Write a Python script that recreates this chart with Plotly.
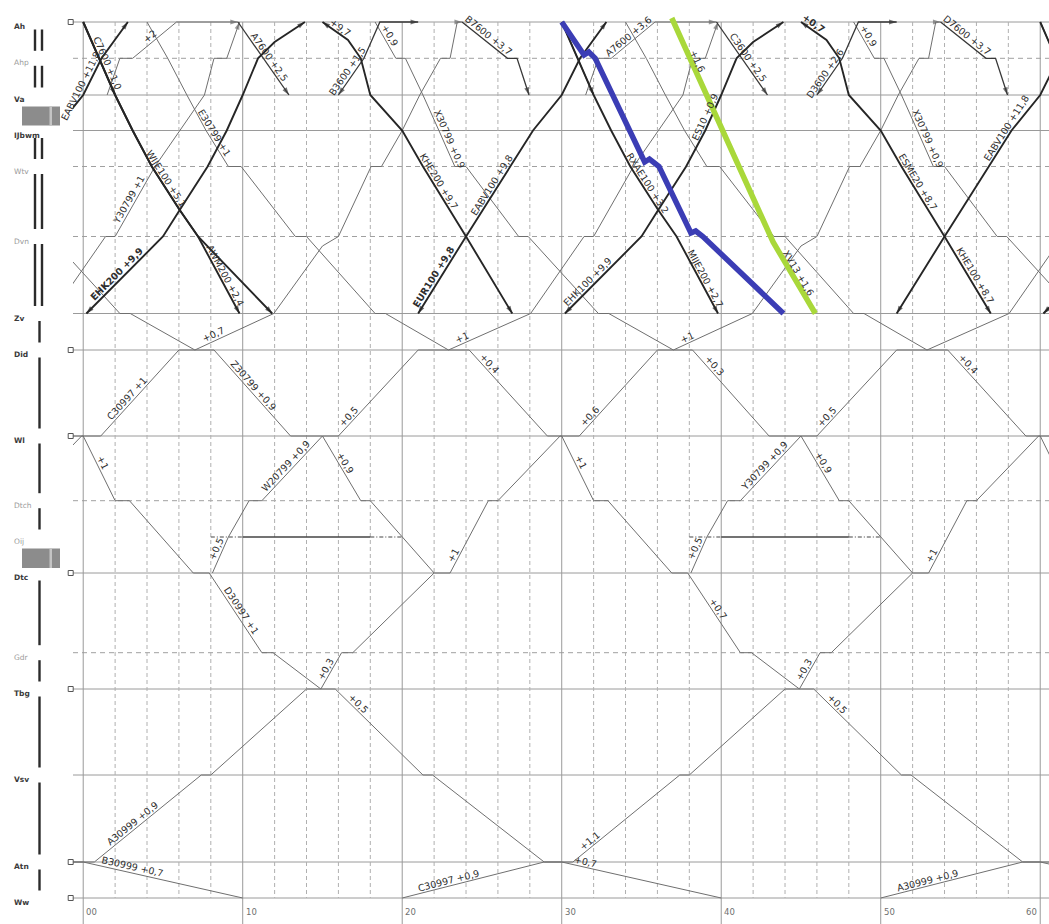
import math
import plotly.graph_objects as go

# ---------------- data ----------------
STATIONS = ["Ah", "Ahp", "Va", "IJbwm", "Wtv", "Dvn", "Zv", "Did", "Wl", "Dtch",
            "Oij", "Dtc", "Gdr", "Tbg", "Vsv", "Atn", "Ww"]
STATION_POS = [0.0, 3.63, 7.3, 10.85, 14.45, 21.45, 29.15, 32.8, 41.4, 47.87,
               51.5, 55.1, 63.07, 66.7, 75.3, 84.0, 87.6]
SOLID_STATIONS = ["Ah", "Va", "IJbwm", "Zv", "Did", "Wl", "Dtc", "Tbg", "Vsv", "Atn", "Ww"]
DASHED_STATIONS = ["Ahp", "Wtv", "Dvn", "Dtch", "Gdr"]
SQUARE_STATIONS = ["Ah", "Did", "Wl", "Dtc", "Tbg", "Atn", "Ww"]
SECTION_TRACKS = ["double", "double", "yard", "double", "double", "double",
                  "single", "single", "single", "single", "yard",
                  "single", "single", "single", "single", "single"]

TICK_MINUTES = [0, 10, 20, 30, 40, 50, 60]
TICK_TEXT = ["00", "10", "20", "30", "40", "50", "60"]
MINOR_STEP = 2
PERIOD = 30

SIDING_STATION = "Oij"
SIDING_DASHED = [(8.0, 10.0), (18.0, 20.0), (38.0, 40.0), (48.0, 50.0)]
SIDING_SOLID = [(10.0, 18.0), (40.0, 48.0)]

# train paths: (minute, station or position)
D_A = [(18.3, "Ah"), (19.6, "Ahp"), (20.2, "Ahp"), (21.3, "Va"), (22.3, "IJbwm"), (23.3, "Wtv"),
       (24.0, "Wtv"), (27.3, "Dvn"), (27.9, "Dvn"), (32.3, "Zv"), (32.95, "Zv"), (37.0, "Did"),
       (38.2, "Did"), (43.0, "Wl"), (45.0, "Wl"), (47.4, "Dtch"), (48.0, "Dtch"), (52.0, "Dtc")]
D_B = [(4.0, "Ah"), (5.3, "Ahp"), (6.5, "Va"), (7.7, "IJbwm"), (9.1, "Wtv"), (9.9, "Wtv"),
       (13.3, "Dvn"), (14.0, "Dvn"), (18.3, "Zv"), (18.95, "Zv"), (22.9, "Did"), (24.2, "Did"),
       (29.1, "Wl"), (30.0, "Wl"), (32.0, "Dtch"), (32.9, "Dtch"), (36.9, "Dtc"), (37.9, "Dtc"),
       (41.2, "Gdr"), (41.9, "Gdr"), (44.9, "Tbg"), (45.8, "Tbg"), (51.3, "Vsv"), (51.9, "Vsv"),
       (58.9, "Atn"), (60.0, "Atn"), (70.0, "Ww")]
U_A = [(-10.0, "Ww"), (-1.1, "Atn"), (0.7, "Atn"), (7.4, "Vsv"), (8.0, "Vsv"), (14.0, "Tbg"),
       (14.9, "Tbg"), (16.2, "Gdr"), (16.9, "Gdr"), (22.0, "Dtc"), (23.0, "Dtc"), (24.2, "Oij"),
       (25.4, "Dtch"), (26.0, "Dtch"), (29.9, "Wl"), (31.1, "Wl"), (36.0, "Did"), (37.0, "Did"),
       (41.95, "Zv"), (45.0, 22.4), (46.0, "Dvn"), (48.05, "Wtv"), (48.7, "Wtv"), (50.0, "IJbwm"),
       (51.1, "Va"), (52.4, "Ahp"), (53.0, "Ahp"), (53.45, "Ah"), (53.75, "Ah")]
U_B = [(8.1, "Dtc"), (9.1, "Oij"), (10.4, "Dtch"), (11.2, "Dtch"), (15.0, "Wl"), (16.0, "Wl"),
       (21.0, "Did"), (22.9, "Did"), (28.05, "Zv"), (31.4, "Dvn"), (32.0, "Dvn"), (34.5, "Wtv"),
       (37.6, "Va"), (38.2, "Ahp"), (39.0, "Ahp"), (39.8, "Ah")]
Q_UP = [(1.5, "Va"), (2.3, "Ahp"), (3.1, "Ahp"), (5.85, "Ah"), (9.7, "Ah")]
SD1 = [(0.0, "Ah"), (2.0, "Va")]
SD2 = [(9.7, "Ah"), (12.9, "Va")]
SD3 = [(23.75, "Ah"), (26.6, "Ahp"), (27.2, "Ahp"), (27.95, "Va")]
SU1 = [(16.0, "Va"), (17.6, "Ahp"), (18.6, "Ah"), (21.0, "Ah")]
EHK = [(0.2, "Zv"), (5.0, "Dvn"), (6.05, 18.8), (7.8, "Wtv"), (9.0, "IJbwm"), (10.0, "Va"),
       (10.96, "Ahp"), (12.0, 2.0), (13.9, "Ah")]
EABV = [(21.0, "Zv"), (24.0, "Dvn"), (28.2, "IJbwm"), (30.0, "Va"), (31.15, "Ahp"), (32.8, "Ah")]
BD1 = [(0.0, "Ah"), (1.0, "Ahp"), (2.0, "Va"), (3.1, "IJbwm"), (4.3, "Wtv"), (6.05, 18.8),
       (7.2, "Dvn"), (9.8, "Zv")]
BD2 = [(0.0, "Ah"), (1.0, "Ahp"), (2.0, "Va"), (3.1, "IJbwm"), (4.3, "Wtv"), (6.05, 18.8),
       (7.2, "Dvn"), (11.85, "Zv")]
KHE = [(15.0, "Ah"), (16.6, 1.8), (17.4, "Ahp"), (18.0, "Va"), (20.0, "IJbwm"), (21.3, "Wtv"),
       (24.0, "Dvn"), (26.9, "Zv")]
BLUE = [(30.0, "Ah"), (31.4, 3.3), (31.7, 3.0), (32.1, "Ahp"), (35.2, 14.0), (35.5, 13.7),
        (36.1, "Wtv"), (38.1, 21.1), (38.4, 20.9), (38.85, "Dvn"), (43.9, "Zv")]
GREEN = [(36.9, -0.4), (43.25, 22.0), (45.9, "Zv")]

PATHS = {"D_A": D_A, "D_B": D_B, "U_A": U_A, "U_B": U_B, "Q_UP": Q_UP, "SD1": SD1, "SD2": SD2,
         "SD3": SD3, "SU1": SU1, "EHK": EHK, "EABV": EABV, "BD1": BD1, "BD2": BD2, "KHE": KHE,
         "BLUE": BLUE, "GREEN": GREEN}
PERIODIC = ["D_A", "D_B", "U_A", "U_B", "Q_UP", "SD1", "SD2", "SD3", "SU1", "EHK", "EABV", "BD1", "KHE"]

# labels: (text, path, period shift, minute, bold)
LABELS = [
    ("C30997 +1", "U_A", -1, 3.0, False), ("+0,7", "U_A", -1, 8.3, False),
    ("Z30799 +0,9", "D_A", -1, 10.4, False), ("+0,5", "U_B", 0, 16.9, False),
    ("+1", "U_B", 0, 23.9, False), ("+0,4", "D_B", 0, 25.2, False),
    ("+1", "D_B", -1, 0.9, False), ("W20799 +0,9", "U_B", 0, 13.0, False),
    ("+0,9", "D_A", -1, 16.1, False), ("+0,5", "U_B", 0, 8.7, False),
    ("+1", "U_A", 0, 23.5, False), ("D30997 +1", "D_B", -1, 9.6, False),
    ("+0,3", "U_A", 0, 15.5, False), ("+0,5", "D_B", -1, 17.0, False),
    ("A30999 +0,9", "U_A", 0, 3.3, False), ("B30999 +0,7", "D_B", -2, 3.0, False),
    ("C30997 +0,9", "U_A", 1, 23.0, False),
    ("+1", "U_A", 0, 38.0, False), ("+0,3", "D_A", 0, 39.3, False),
    ("+0,4", "D_B", 1, 55.2, False), ("+0,6", "U_A", 0, 32.0, False),
    ("+0,5", "U_B", 1, 46.9, False), ("+1", "D_B", 0, 30.9, False),
    ("Y30799 +0,9", "U_B", 1, 43.0, False), ("+0,9", "D_A", 0, 46.1, False),
    ("+0,5", "U_B", 1, 38.7, False), ("+1", "U_A", 1, 53.5, False),
    ("+0,7", "D_B", 0, 39.5, False), ("+0,3", "U_A", 1, 45.5, False),
    ("+0,5", "D_B", 0, 47.0, False), ("+1,1", "U_A", 1, 32.0, False),
    ("+0,7", "D_B", -1, 31.4, False), ("A30999 +0,9", "U_A", 2, 53.0, False),
    ("EHK200 +9,9", "EHK", 0, 2.4, True), ("WIJE100 +5,1", "BD1", 0, 4.9, False),
    ("AWM200 +2,4", "BD1", 0, 8.6, False), ("Y30799 +1", "U_B", -1, 3.2, False),
    ("E30799 +1", "D_B", 0, 7.9, False), ("C7600 +1,0", "SD1", 0, 1.2, False),
    ("+2", "Q_UP", 0, 4.4, False), ("A7600 +2,5", "SD2", 0, 11.4, False),
    ("+9,7", "KHE", 0, 15.9, False), ("B3600 +1,5", "SU1", 0, 16.9, False),
    ("+0,9", "D_A", 0, 18.9, False), ("KHE200 +9,7", "KHE", 0, 22.0, False),
    ("X30799 +0,9", "D_A", 0, 22.6, False), ("B7600 +3,7", "SD3", 0, 25.2, False),
    ("EUR100 +9,8", "EABV", 0, 22.3, True), ("EABV100 +9,8", "EABV", 0, 25.9, False),
    ("EABV100 +11,8", "EABV", -1, 0.2, False), ("EHK100 +9,9", "EHK", 1, 31.9, False),
    ("RXAE100 +3,2", "BD1", 1, 35.1, False), ("MIJE200 +2,7", "BD1", 1, 38.7, False),
    ("A7600 +3,6", "Q_UP", 1, 34.4, False), ("C3600 +2,5", "SD2", 1, 41.4, False),
    ("ES10 +0,9", "EHK", 1, 39.3, False), ("+0,7", "KHE", 1, 45.6, True),
    ("D3600 +2,6", "SU1", 1, 46.8, False), ("+0,9", "D_A", 1, 48.9, False),
    ("X30799 +0,9", "D_A", 1, 52.6, False), ("ESME20 +8,7", "KHE", 1, 52.0, False),
    ("KHE100 +8,7", "KHE", 1, 55.6, False), ("D7600 +3,7", "SD3", 1, 55.2, False),
    ("EABV100 +11,8", "EABV", 1, 58.2, False), ("+1,6", "GREEN", 0, 38.2, False),
    ("XV13 +1,6", "GREEN", 0, 44.5, False),
]

# ---------------- layout constants ----------------
W, H = 1049, 924
ML, MR, MT, MB = 73, 0, 0, 0
X_RANGE = [-0.64, 60.55]
Y_RANGE = [90.2, -2.2]
PLOT_W = W - ML - MR
PLOT_H = H - MT - MB
SX = PLOT_W / (X_RANGE[1] - X_RANGE[0])
SY = PLOT_H / (Y_RANGE[0] - Y_RANGE[1])
FONT = "DejaVu Sans"

POS = dict(zip(STATIONS, STATION_POS))


def km(loc):
    return POS[loc] if isinstance(loc, str) else float(loc)


def px(xpix):
    return (xpix - ML) / PLOT_W


STYLE = {
    "thin": dict(color="#6f6f6f", width=1.0),
    "short": dict(color="#383838", width=1.3),
    "bold": dict(color="#262626", width=1.9),
    "blue": dict(color="#3b3db5", width=5.5),
    "green": dict(color="#a9d83a", width=5.5),
}
PATH_STYLE = {"D_A": "thin", "D_B": "thin", "U_A": "thin", "U_B": "thin", "Q_UP": "thin",
              "SD1": "short", "SD2": "short", "SD3": "short", "SU1": "short",
              "EHK": "bold", "EABV": "bold", "BD1": "bold", "BD2": "bold", "KHE": "bold",
              "BLUE": "blue", "GREEN": "green"}
ARROWS = {"EHK": (True, True), "EABV": (True, True), "BD1": (False, True), "BD2": (False, True),
          "KHE": (True, True), "SD1": (False, True), "SD2": (False, True), "SD3": (False, True),
          "SU1": (True, True), "Q_UP": (False, True), "U_A": (False, True), "U_B": (False, True)}


def instances(name):
    return range(-2, 3) if name in PERIODIC else [0]


fig = go.Figure()
shapes = []
annotations = []

# grid: station lines
for s in SOLID_STATIONS:
    shapes.append(dict(type="line", xref="paper", yref="y", x0=0, x1=1, y0=POS[s], y1=POS[s],
                       line=dict(color="#9a9a9a", width=1), layer="below"))
for s in DASHED_STATIONS:
    shapes.append(dict(type="line", xref="paper", yref="y", x0=0, x1=1, y0=POS[s], y1=POS[s],
                       line=dict(color="#a0a0a0", width=1, dash="5px,4px"), layer="below"))
# vertical grid
for m in range(0, 61, MINOR_STEP):
    if m % 10 == 0:
        shapes.append(dict(type="line", xref="x", yref="y", x0=m, x1=m, y0=POS["Ah"], y1=Y_RANGE[0],
                           line=dict(color="#9a9a9a", width=1), layer="below"))
    else:
        shapes.append(dict(type="line", xref="x", yref="y", x0=m, x1=m, y0=POS["Ah"], y1=POS["Ww"],
                           line=dict(color="#b0b0b0", width=1, dash="4px,3px"), layer="below"))

# siding occupation
ys = POS[SIDING_STATION]
for a, b in SIDING_DASHED:
    fig.add_trace(go.Scatter(x=[a, b], y=[ys, ys], mode="lines", hoverinfo="skip", showlegend=False,
                             line=dict(color="#444444", width=1.2, dash="4px,2px,1px,2px")))
for a, b in SIDING_SOLID:
    fig.add_trace(go.Scatter(x=[a, b], y=[ys, ys], mode="lines", hoverinfo="skip", showlegend=False,
                             line=dict(color="#444444", width=1.3)))

# train lines grouped by style
order = ["thin", "short", "bold", "blue", "green"]
for st in order:
    xs, yv = [], []
    for name, pts in PATHS.items():
        if PATH_STYLE[name] != st:
            continue
        for k in instances(name):
            for t, loc in pts:
                xs.append(t + PERIOD * k)
                yv.append(km(loc))
            xs.append(None)
            yv.append(None)
    fig.add_trace(go.Scatter(x=xs, y=yv, mode="lines", hoverinfo="skip", showlegend=False,
                             line=dict(color=STYLE[st]["color"], width=STYLE[st]["width"])))
    # arrow heads for this style
    for name, pts in PATHS.items():
        if PATH_STYLE[name] != st or name not in ARROWS:
            continue
        start, end = ARROWS[name]
        for k in instances(name):
            p = [(t + PERIOD * k, km(loc)) for t, loc in pts]
            pairs = []
            if end:
                pairs.append((p[-2], p[-1]))
            if start:
                pairs.append((p[1], p[0]))
            for a, b in pairs:
                if not (X_RANGE[0] <= b[0] <= X_RANGE[1]):
                    continue
                fig.add_trace(go.Scatter(
                    x=[a[0], b[0]], y=[a[1], b[1]], mode="markers", hoverinfo="skip", showlegend=False,
                    marker=dict(symbol="arrow", angleref="previous", size=[0, 8],
                                color=STYLE[st]["color"], line=dict(width=0))))

# train labels
for text, name, k, t, bold in LABELS:
    p = [(a + PERIOD * k, km(b)) for a, b in PATHS[name]]
    yv = None
    for (t1, y1), (t2, y2) in zip(p, p[1:]):
        if t1 <= t <= t2 and t2 > t1:
            yv = y1 + (y2 - y1) * (t - t1) / (t2 - t1)
            ang = math.degrees(math.atan2((y2 - y1) * SY, (t2 - t1) * SX))
            break
    if yv is None:
        continue
    th = math.radians(ang)
    off = 6.0
    annotations.append(dict(
        x=t, y=yv, xref="x", yref="y", text=("<b>%s</b>" % text) if bold else text,
        textangle=ang, showarrow=False, xanchor="center", yanchor="middle",
        xshift=off * math.sin(th), yshift=off * math.cos(th),
        font=dict(family=FONT, size=9.5, color="#2e2e2e")))

# time labels
for m, lab in zip(TICK_MINUTES, TICK_TEXT):
    last = m == TICK_MINUTES[-1]
    annotations.append(dict(x=m, y=89.0, xref="x", yref="y", text=lab, showarrow=False,
                            xanchor="right" if last else "left", yanchor="middle",
                            xshift=-1 if last else 1,
                            font=dict(family=FONT, size=8.5, color="#707070")))

# station names on the left
for s, pos in zip(STATIONS, STATION_POS):
    major = s in SOLID_STATIONS
    annotations.append(dict(x=px(12), y=pos + 0.45, xref="paper", yref="y",
                            text=("<b>%s</b>" % s) if major else s, showarrow=False,
                            xanchor="left", yanchor="middle",
                            font=dict(family=FONT, size=7.5, color="#3a3a3a" if major else "#9a9a9a")))

# station squares
for s in SQUARE_STATIONS:
    shapes.append(dict(type="rect", xref="paper", yref="y", x0=px(68.2), x1=px(73.2),
                       y0=POS[s] - 0.25, y1=POS[s] + 0.25,
                       line=dict(color="#555555", width=1), fillcolor="white"))

# track diagram bars
for i, kind in enumerate(SECTION_TRACKS):
    y0, y1 = STATION_POS[i], STATION_POS[i + 1]
    if kind == "double":
        for xc in (35.0, 42.0):
            shapes.append(dict(type="rect", xref="paper", yref="y", x0=px(xc - 1.2), x1=px(xc + 1.2),
                               y0=y0 + 0.75, y1=y1 - 0.75, line=dict(width=0), fillcolor="#2b2b2b"))
    elif kind == "single":
        shapes.append(dict(type="rect", xref="paper", yref="y", x0=px(38.3), x1=px(40.7),
                           y0=y0 + 0.75, y1=y1 - 0.75, line=dict(width=0), fillcolor="#2b2b2b"))
    else:
        shapes.append(dict(type="rect", xref="paper", yref="y", x0=px(22), x1=px(60),
                           y0=y0 + 1.15, y1=y1 - 0.5, line=dict(width=0), fillcolor="#8c8c8c"))
        shapes.append(dict(type="rect", xref="paper", yref="y", x0=px(49.5), x1=px(52),
                           y0=y0 + 1.15, y1=y1 - 0.5, line=dict(width=0), fillcolor="#c4c4c4"))

fig.update_layout(
    width=W, height=H,
    margin=dict(l=ML, r=MR, t=MT, b=MB, pad=0),
    paper_bgcolor="white", plot_bgcolor="white",
    xaxis=dict(range=X_RANGE, visible=False, fixedrange=True),
    yaxis=dict(range=Y_RANGE, visible=False, fixedrange=True),
    shapes=shapes, annotations=annotations, showlegend=False,
)

fig.write_html("out.html", config={"displayModeBar": False},
               post_script="document.body.style.margin='0';")
